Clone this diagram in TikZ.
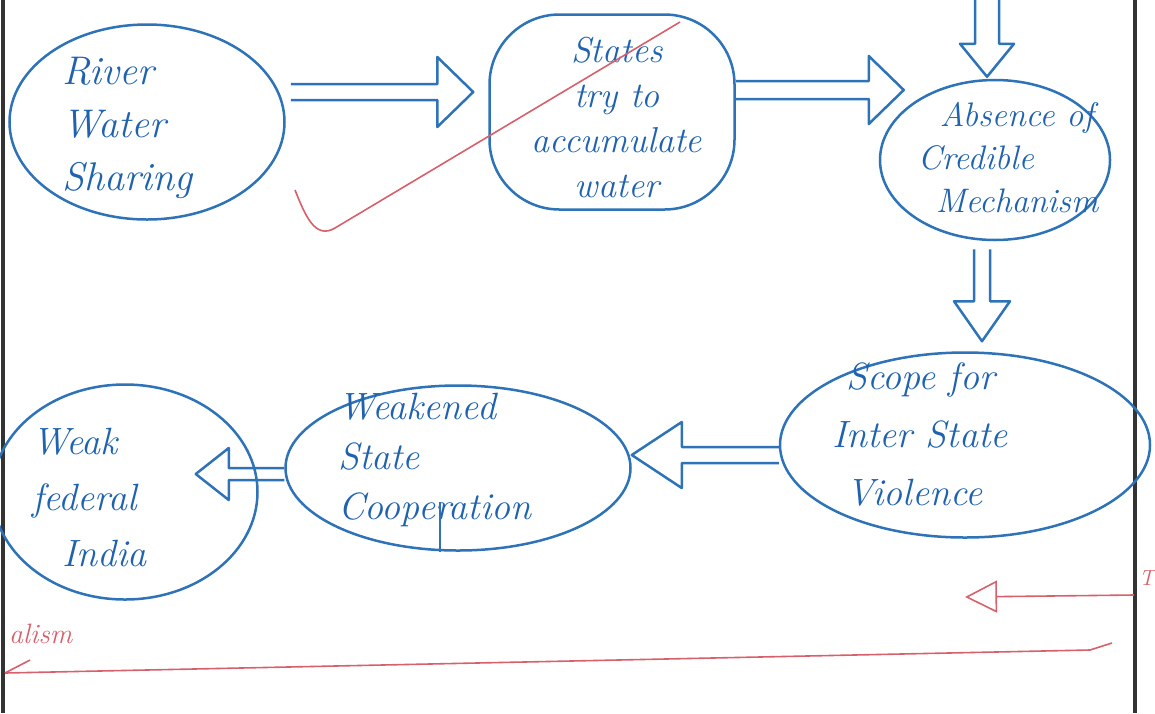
\documentclass[tikz,border=0pt]{standalone}
\usetikzlibrary{shapes.geometric,calc,arrows.meta}
\definecolor{ink}{HTML}{2E72B8}
\definecolor{inktext}{HTML}{1F62B0}
\definecolor{redink}{HTML}{D8606C}
\definecolor{framecol}{HTML}{333333}
\tikzset{
  bubble/.style={draw=ink, line width=2.5pt, ellipse, inner sep=0pt},
  boxbubble/.style={draw=ink, line width=2.5pt, rectangle, rounded corners=70pt, inner sep=0pt},
  lab/.style={text=inktext, font=\fontsize{38}{50}\selectfont\itshape, inner sep=0pt},
  arr/.style={draw=ink, line width=2.5pt, line join=round},
  redline/.style={draw=redink, line width=1.6pt},
  framestroke/.style={draw=framecol, line width=4pt},
}
% start, end, shaft half width, head half width, head length
\newcommand\blockarrow[5]{%
  \coordinate (ba-s) at (#1);
  \coordinate (ba-e) at (#2);
  \coordinate (ba-h) at ($(ba-e)!#5!(ba-s)$);
  \draw[arr] ($(ba-s)!#3!90:(ba-e)$) -- ($(ba-h)!#3!90:(ba-e)$) -- ($(ba-h)!#4!90:(ba-e)$)
    -- (ba-e) -- ($(ba-h)!#4!-90:(ba-e)$) -- ($(ba-h)!#3!-90:(ba-e)$) -- ($(ba-s)!#3!-90:(ba-e)$);
}
\begin{document}
\begin{tikzpicture}[x=1pt,y=-1pt]
\useasboundingbox (0,0) rectangle (1155,713);
\fill[white] (0,0) rectangle (1155,713);

% page frame
\draw[framestroke] (3,0) -- (3,713);
\draw[framestroke] (1135,0) -- (1135,713);

% bubbles
\node[bubble, minimum width=275pt, minimum height=195pt] (n1) at (147,122) {};
\node[boxbubble, minimum width=245pt, minimum height=195pt] (n2) at (612,112) {};
\node[bubble, minimum width=230pt, minimum height=160pt] (n3) at (995,160) {};
\node[bubble, minimum width=370pt, minimum height=185pt] (n4) at (965,445) {};
\node[bubble, minimum width=345pt, minimum height=165pt] (n5) at (458,468) {};
\node[bubble, minimum width=265pt, minimum height=215pt] (n6) at (125,492) {};

% texts
\node[lab, align=left, anchor=west, font=\fontsize{40}{53}\selectfont\itshape] (t1) at (62,128) {River\\Water\\Sharing};
\node[lab, align=center, font=\fontsize{36}{45}\selectfont\itshape] (t2) at (617,118) {States\\try to\\accumulate\\water};
\node[lab, align=left, font=\fontsize{34}{43}\selectfont\itshape] (t3) at (1008,158) {\hspace*{22pt}Absence of\\Credible\\\hspace*{18pt}Mechanism};
\node[lab, align=left, anchor=west, font=\fontsize{38}{58}\selectfont\itshape] (t4) at (832,435) {\hspace*{14pt}Scope for\\Inter State\\\hspace*{14pt}Violence};
\node[lab, align=left, anchor=west, font=\fontsize{38}{50}\selectfont\itshape] (t5) at (338,460) {Weakened\\State\\Cooperation};
\node[lab, align=left, anchor=west, font=\fontsize{38}{56}\selectfont\itshape] (t6) at (32,497) {Weak\\federal\\\hspace*{30pt}India};

% stray stroke inside n5
\draw[ink, line width=1.5pt] ($(n5.south)+(-18,-50)$) -- ($(n5.south)+(-18,0)$);

% hollow arrows
\blockarrow{$(n1.east)+(5,-30)$}{$(n2.west)+(-15,-20)$}{8pt}{35pt}{36pt}
\blockarrow{$(n2.east)+(0,-22)$}{$(n3.west)+(25,-70)$}{9pt}{34pt}{35pt}
\coordinate (topin) at (987,-10);
\blockarrow{topin}{$(n3.north)+(-8,-2)$}{12pt}{27pt}{33pt}
\blockarrow{$(n3.south)+(-13,8)$}{$(n4.north)+(17,-10)$}{8pt}{28pt}{40pt}
\blockarrow{$(n4.west)+(0,10)$}{$(n5.east)+(0,-13)$}{8pt}{33pt}{50pt}
\blockarrow{$(n5.west)+(0,6)$}{$(n6.east)+(-63,-18)$}{6pt}{26pt}{33pt}

% red annotations
\draw[redline, line join=round] (295,190) .. controls (305,215) and (315,240) .. (335,228) -- (680,22);
\draw[redline] (5,673) -- (1090,650) -- (1112,643);
\draw[redline] (5,673) -- (30,660);
\coordinate (redstart) at (1134,595);
\coordinate (redtip) at (965,597);
\draw[redline, -{Triangle[open, length=32pt, width=32pt]}] (redstart) -- (redtip);
\node[text=redink, font=\fontsize{28}{28}\selectfont\itshape, inner sep=0pt, anchor=south west] (r1) at (9,644) {alism};
\node[text=redink, font=\fontsize{22}{22}\selectfont\itshape, inner sep=0pt, anchor=west] (r2) at (1139,578) {T};
\end{tikzpicture}
\end{document}
